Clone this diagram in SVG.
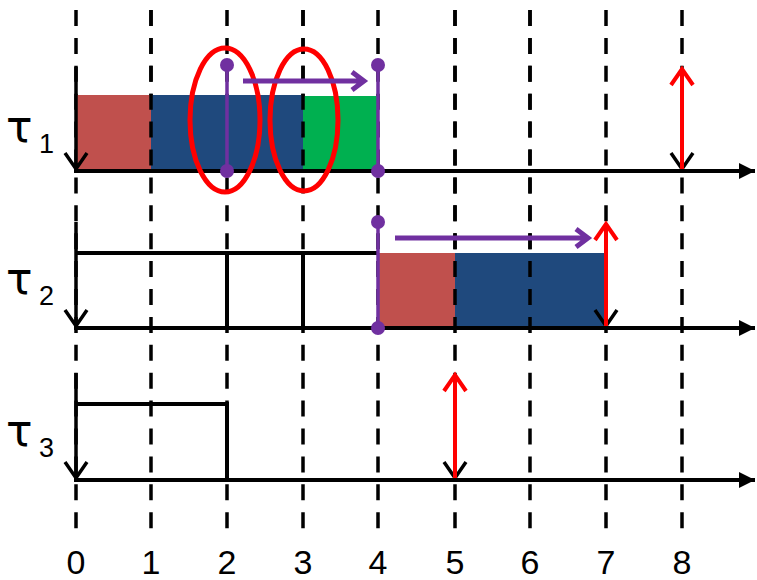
<svg xmlns="http://www.w3.org/2000/svg" width="757" height="580" viewBox="0 0 757 580">
<defs>
<style>
.grid{stroke:#000;stroke-width:3.5;stroke-dasharray:16 11.9;fill:none}
.axis{stroke:#000;stroke-width:4;fill:none}
.box{stroke:#000;stroke-width:4;fill:none}
.rel{stroke:#000;stroke-width:3.5;fill:none}
.dl{stroke:#FF0000;stroke-width:4;fill:none}
.pur{stroke:#7030A0;stroke-width:3.5;fill:none}
.parrow{stroke:#7030A0;stroke-width:5;fill:none}
.ell{stroke:#FF0000;stroke-width:5;fill:none}
.dot{fill:#7030A0}
.tau{font-family:"DejaVu Sans",sans-serif;font-size:44px;fill:#000}
.sub{font-family:"Liberation Sans",Arial,sans-serif;font-size:27px;fill:#000}
.num{font-family:"Liberation Sans",Arial,sans-serif;font-size:34px;fill:#000;text-anchor:middle}
</style>
<marker id="ah" viewBox="0 0 10 10" refX="10" refY="5" markerWidth="5" markerHeight="4" markerUnits="strokeWidth" orient="auto"><path d="M0,0 L10,5 L0,10 z" fill="#000"/></marker>
</defs>
<g id="grid">
<line class="grid" x1="76" y1="10" x2="76" y2="529"/>
<line class="grid" x1="151" y1="10" x2="151" y2="529"/>
<line class="grid" x1="227" y1="10" x2="227" y2="529"/>
<line class="grid" x1="303" y1="10" x2="303" y2="529"/>
<line class="grid" x1="378" y1="10" x2="378" y2="529"/>
<line class="grid" x1="455" y1="10" x2="455" y2="529"/>
<line class="grid" x1="530" y1="10" x2="530" y2="529"/>
<line class="grid" x1="606" y1="10" x2="606" y2="529"/>
<line class="grid" x1="682" y1="10" x2="682" y2="529"/>
</g>
<g id="task1">
<rect x="76" y="95" width="75" height="76" fill="#C0504D"/>
<rect x="151" y="95" width="152" height="76" fill="#1F497D"/>
<rect x="303" y="96" width="75" height="75" fill="#00B050"/>
<line class="grid" x1="151" y1="10" x2="151" y2="171"/>
<line class="grid" x1="303" y1="10" x2="303" y2="171"/>
<text class="tau" x="6" y="142">τ</text>
<text class="sub" x="39" y="153">1</text>
</g>
<g id="task2">
<path class="box" d="M76,253 H378 M227,253 V328 M303,253 V328"/>
<rect x="378" y="253" width="77" height="75" fill="#C0504D"/>
<rect x="455" y="253" width="151" height="75" fill="#1F497D"/>
<line class="grid" x1="455" y1="10" x2="455" y2="328"/>
<line class="grid" x1="530" y1="10" x2="530" y2="328"/>
<text class="tau" x="6" y="294">τ</text>
<text class="sub" x="39" y="305">2</text>
</g>
<g id="task3">
<path class="box" d="M76,404 H227 V480"/>
<text class="tau" x="6" y="446">τ</text>
<text class="sub" x="39" y="457">3</text>
</g>
<g id="axes">
<line class="axis" x1="74" y1="171" x2="755" y2="171" marker-end="url(#ah)"/>
<line class="axis" x1="74" y1="328" x2="755" y2="328" marker-end="url(#ah)"/>
<line class="axis" x1="74" y1="480" x2="755" y2="480" marker-end="url(#ah)"/>
</g>
<g id="releases">
<path class="rel" d="M76,67 V169 M65,153 L76,169 L87,153"/>
<path class="rel" d="M76,222 V326 M65,310 L76,326 L87,310"/>
<path class="rel" d="M76,373 V478 M65,462 L76,478 L87,462"/>
<path class="rel" d="M671,153 L682,169 L693,153"/>
<path class="rel" d="M595,310 L606,326 L617,310"/>
<path class="rel" d="M444,462 L455,478 L466,462"/>
</g>
<g id="deadlines">
<path class="dl" d="M682,169 V69 M671,85 L682,69 L693,85"/>
<path class="dl" d="M606,326 V224 M595,240 L606,224 L617,240"/>
<path class="dl" d="M455,478 V375 M444,391 L455,375 L466,391"/>
</g>
<g id="ellipses">
<ellipse class="ell" cx="225" cy="120" rx="35" ry="72"/>
<ellipse class="ell" cx="304" cy="120" rx="34" ry="71"/>
</g>
<g id="shifts">
<path class="pur" d="M227,65 V171 M378,65 V171 M378,222 V328"/>
<circle class="dot" cx="227" cy="65" r="7"/>
<circle class="dot" cx="227" cy="171" r="7"/>
<circle class="dot" cx="378" cy="65" r="7"/>
<circle class="dot" cx="378" cy="171" r="7"/>
<circle class="dot" cx="378" cy="222" r="7"/>
<circle class="dot" cx="378" cy="328" r="7"/>
<path class="parrow" d="M243,81 H363 M352,72 L364,81 L352,90"/>
<path class="parrow" d="M395,238 H587 M576,229 L588,238 L576,247"/>
</g>
<g id="labels">
<text class="num" x="76" y="574">0</text>
<text class="num" x="151" y="574">1</text>
<text class="num" x="227" y="574">2</text>
<text class="num" x="303" y="574">3</text>
<text class="num" x="378" y="574">4</text>
<text class="num" x="455" y="574">5</text>
<text class="num" x="530" y="574">6</text>
<text class="num" x="606" y="574">7</text>
<text class="num" x="682" y="574">8</text>
</g>
</svg>
